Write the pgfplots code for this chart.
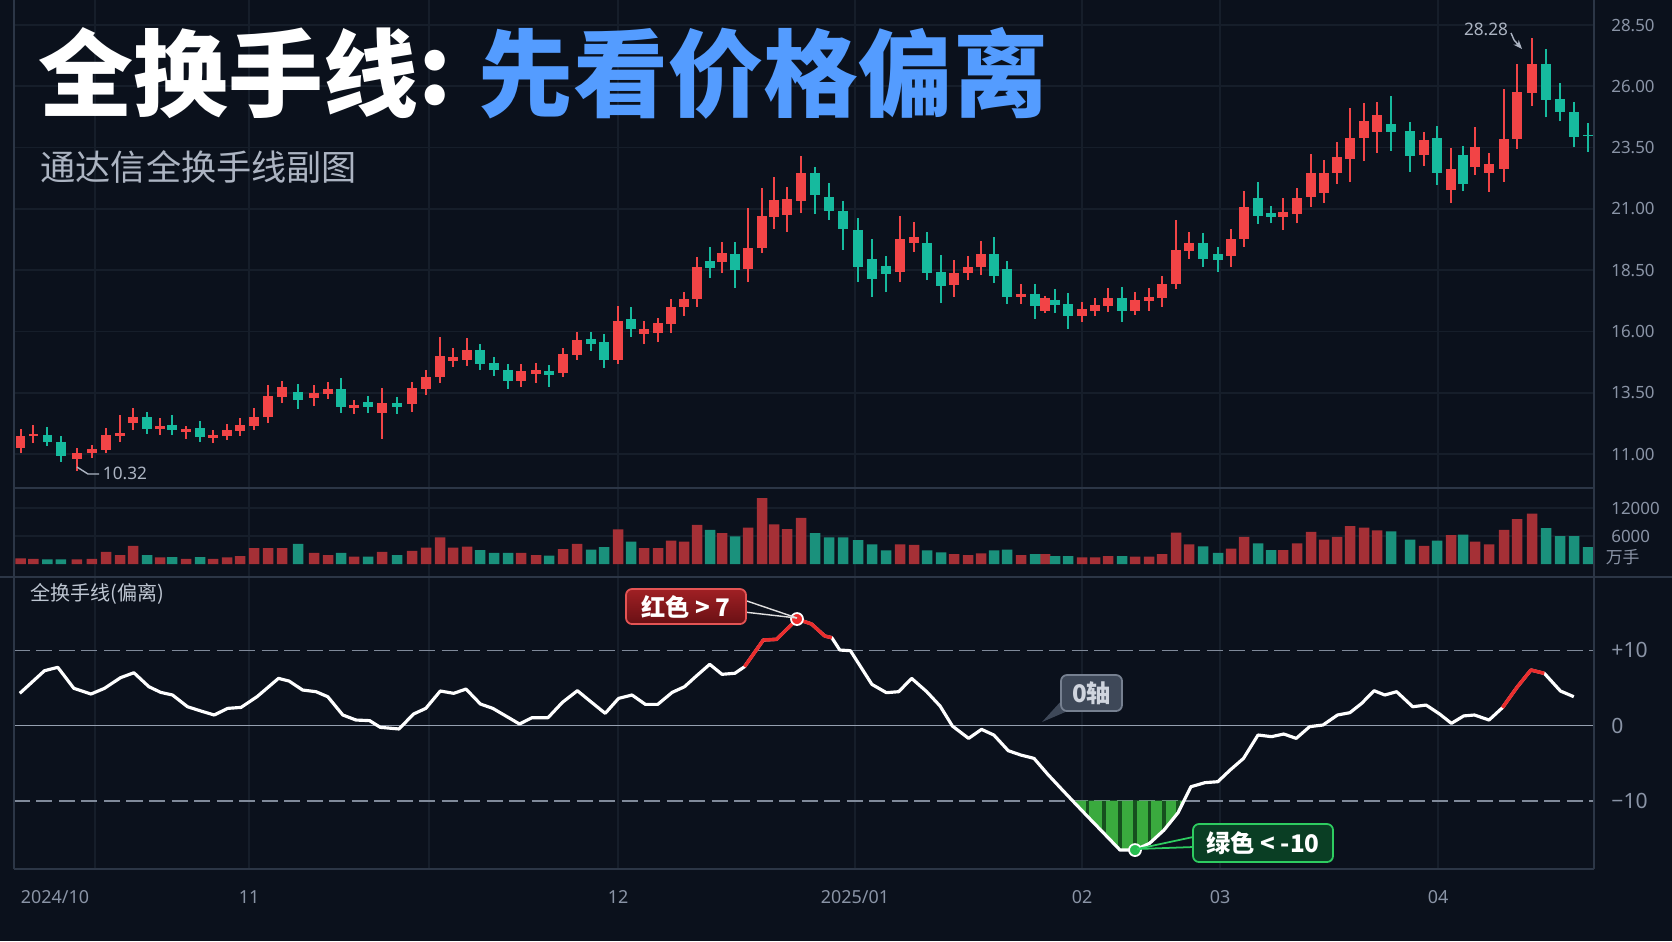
\documentclass[border=0pt]{standalone}
\usepackage{pgfplots}
\pgfplotsset{compat=1.18}
\usepackage{pgfplotstable}
\usetikzlibrary{arrows.meta}
\usepackage{fontspec}
\setmainfont{Noto Sans}
\newfontfamily\cjk{Noto Sans CJK SC}
\definecolor{bgc}{RGB}{11,17,28}
\definecolor{gridc}{RGB}{22,30,42}
\definecolor{sepc}{RGB}{44,54,70}
\definecolor{tickc}{RGB}{138,148,166}
\definecolor{upc}{RGB}{242,68,70}
\definecolor{dnc}{RGB}{22,186,158}
\definecolor{volup}{RGB}{165,48,54}
\definecolor{voldn}{RGB}{26,145,124}
\definecolor{dashc}{RGB}{128,138,154}
\definecolor{zeroc}{RGB}{150,160,176}
\definecolor{linered}{RGB}{235,45,45}
\definecolor{fillg}{RGB}{58,170,62}
\definecolor{stripec}{RGB}{22,80,30}
\definecolor{titleblue}{RGB}{84,156,255}
\definecolor{subc}{RGB}{172,180,194}
\definecolor{lblc}{RGB}{190,198,210}
\definecolor{markg}{RGB}{40,190,80}
\definecolor{redborder}{RGB}{228,84,84}
\definecolor{redtop}{RGB}{160,32,36}
\definecolor{redbot}{RGB}{105,16,20}
\definecolor{greenborder}{RGB}{46,204,96}
\definecolor{greenfill}{RGB}{10,62,36}
\definecolor{zfill}{RGB}{62,72,88}
\definecolor{zborder}{RGB}{118,128,144}
\definecolor{ztext}{RGB}{208,213,222}

\pgfplotstableread{
x o h l c v
20.7 11.25 12.02 11.05 11.74 1200
33.3 11.72 12.19 11.45 11.80 1100
77 10.82 11.25 10.32 11.06 1000
92 11.04 11.37 10.85 11.21 1100
106 11.17 12.06 11.04 11.78 2600
120 11.74 12.60 11.50 11.86 1900
133 12.27 12.90 11.98 12.50 3900
160 12.02 12.48 11.78 12.15 1400
186 11.90 12.15 11.62 12.02 1100
213 11.66 11.98 11.45 11.78 1100
227 11.74 12.23 11.57 11.98 1400
240 11.94 12.48 11.74 12.19 1700
254 12.15 12.86 11.98 12.50 3400
268 12.50 13.82 12.27 13.37 3400
282 13.33 14.00 13.08 13.74 3400
314 13.29 13.82 12.96 13.49 2400
328 13.45 13.94 13.25 13.66 1900
354 12.88 13.20 12.64 13.00 1600
382 12.68 13.70 11.62 13.08 2600
412 13.04 13.94 12.72 13.70 2800
426 13.66 14.43 13.41 14.14 3500
440 14.14 15.78 13.90 15.00 5700
453 14.80 15.33 14.55 14.96 3500
467 14.84 15.74 14.60 15.25 3700
521 13.98 14.67 13.74 14.39 2400
536 14.27 14.72 13.90 14.43 1900
563 14.31 15.33 14.14 15.08 3200
577 15.04 16.00 14.84 15.65 4300
618 14.84 17.04 14.67 16.43 7400
644 15.90 16.43 15.49 16.10 3400
658 15.94 16.55 15.57 16.35 3400
671 16.31 17.33 15.94 17.00 5000
684 17.00 17.61 16.63 17.33 4800
697 17.33 19.04 17.00 18.63 8400
722 18.83 19.65 18.39 19.20 6600
748 18.55 21.04 18.02 19.41 7800
762 19.41 21.86 19.20 20.71 14100
774 20.67 22.30 20.20 21.37 8500
787 20.75 21.90 20.06 21.41 7500
801 21.33 23.16 20.83 22.46 9900
900 18.43 20.71 18.02 19.77 4200
914 19.61 20.47 19.24 19.86 4100
954 17.90 18.92 17.41 18.39 2100
968 18.39 19.08 18.10 18.63 1900
981 18.63 19.69 18.31 19.16 2300
1021 17.41 17.94 17.12 17.53 1900
1045 16.85 17.45 16.75 17.35 2100
1082 16.63 17.20 16.39 16.92 1400
1095 16.84 17.37 16.63 17.08 1400
1108 17.04 17.77 16.80 17.37 1700
1135 16.84 17.61 16.67 17.29 1600
1149 17.25 17.77 16.84 17.41 1600
1162 17.37 18.26 17.00 17.94 2100
1176 17.94 20.55 17.73 19.33 6700
1189 19.29 20.06 18.96 19.61 4200
1231 19.09 20.18 18.63 19.79 3300
1244 19.77 21.73 19.45 21.08 5800
1283 20.69 21.45 20.14 20.88 3000
1297 20.79 21.86 20.41 21.45 4400
1311 21.49 23.24 21.08 22.46 6900
1324 21.66 22.99 21.24 22.48 5200
1337 22.46 23.73 22.02 23.12 5800
1350 23.03 25.12 22.10 23.91 8100
1364 23.89 25.30 22.95 24.58 7800
1377 24.15 25.37 23.29 24.83 7200
1424 23.20 24.15 22.77 23.80 3900
1451 21.79 23.48 21.26 22.63 6200
1475 22.72 24.34 22.38 23.52 4800
1489 22.46 23.28 21.69 22.83 4200
1504 22.63 25.87 22.10 23.85 7300
1517 23.87 26.91 23.44 25.77 9600
1532 25.74 27.95 25.20 26.91 10800
}\uptab

\pgfplotstableread{
x o h l c v
47.3 11.78 12.10 11.33 11.50 1000
61 11.50 11.74 10.68 10.92 1000
147 12.50 12.72 11.82 12.02 1900
172 12.19 12.60 11.78 11.98 1500
200 12.06 12.35 11.50 11.70 1500
298 13.53 13.86 12.84 13.21 4300
341 13.66 14.10 12.68 12.92 2400
368 13.13 13.37 12.68 12.92 1600
397 13.08 13.33 12.64 12.92 1900
480 15.25 15.50 14.43 14.67 3000
494 14.72 14.96 14.19 14.43 2400
508 14.43 14.67 13.66 13.98 2400
549 14.39 14.63 13.74 14.23 1800
591 15.70 15.98 15.20 15.49 3100
604 15.57 15.90 14.51 14.84 3600
631 16.51 17.00 15.78 16.10 4800
710 18.88 19.45 18.18 18.59 7300
735 19.16 19.65 17.77 18.51 5900
815 22.46 22.70 20.80 21.57 6600
829 21.49 22.06 20.55 20.92 5700
843 20.92 21.33 19.33 20.18 5700
858 20.14 20.63 18.02 18.63 5100
872 18.96 19.77 17.41 18.14 4200
886 18.67 19.08 17.61 18.35 2900
927 19.61 20.06 18.10 18.39 2900
941 18.43 19.12 17.16 17.86 2500
994 19.16 19.86 17.98 18.26 2900
1007 18.55 18.88 17.12 17.41 3100
1035 17.53 17.94 16.51 17.04 2100
1055 17.29 17.73 16.75 17.08 1700
1068 17.12 17.57 16.10 16.63 1700
1122 17.37 17.82 16.39 16.84 1700
1203 19.59 20.00 18.63 18.97 3800
1218 19.16 19.45 18.43 18.92 2400
1258 21.45 22.10 20.39 20.73 4400
1271 20.83 21.12 20.41 20.69 3000
1391 24.46 25.60 23.38 24.14 7000
1410 24.18 24.54 22.52 23.16 5200
1437 23.89 24.38 21.98 22.46 5000
1463 23.20 23.57 21.73 22.02 6300
1546 26.89 27.53 24.73 25.44 7700
1560 25.48 26.13 24.58 24.95 6000
1574 24.95 25.34 23.52 23.93 6000
1588 24.03 24.52 23.34 23.97 3600
}\dntab

\pgfplotstableread{
x y
19.8 4.28
44.5 7.29
57.8 7.74
73.9 4.94
91 4.19
104.4 4.94
120.5 6.36
133.9 7.02
148.9 5.16
160.7 4.41
172.5 4.06
187.5 2.50
200.9 1.93
214.2 1.40
227.6 2.28
241 2.41
257 3.83
278.5 6.27
289 5.92
302.6 4.72
316 4.50
327.8 3.83
342.8 1.40
356 0.73
369.6 0.65
380.3 -0.24
399 -0.46
413.5 1.53
425.8 2.28
440.3 4.59
453.7 4.28
466 4.85
480.4 2.86
492.8 2.28
506.2 1.24
519.5 0.20
531.9 1.04
548 1.04
562.4 3.08
577.4 4.63
590.8 3.17
605.2 1.62
618.6 3.61
632 4.06
645.4 2.81
657.7 2.81
672.2 4.41
684.5 5.16
696.3 6.58
709.7 8.14
722 6.81
734.9 6.95
744.5 7.82
763.3 11.37
776.6 11.46
797 14.16
811.5 13.50
824.8 11.90
831.8 11.68
839.8 10.04
850.4 9.95
871.9 5.47
886.4 4.37
898.7 4.50
911.6 6.27
926.7 4.50
940.1 2.59
952.4 -0.07
968.6 -1.71
981.5 -0.51
993.8 -1.26
1008.3 -3.35
1020.7 -3.92
1034 -4.37
1047.5 -6.45
1060.9 -8.36
1074.4 -10.26
1087.8 -12.13
1103.9 -14.34
1120 -16.56
1135 -16.56
1149.5 -15.67
1164 -13.90
1178 -11.60
1190.9 -8.14
1204.9 -7.60
1217.8 -7.47
1230.1 -5.92
1243.5 -4.37
1258 -1.26
1271.5 -1.48
1283.8 -1.13
1296.2 -1.71
1309.6 -0.15
1323 0.07
1337.5 1.40
1349.9 1.71
1361.7 2.95
1374 4.63
1384.8 4.06
1396.6 4.50
1412.7 2.50
1426.1 2.72
1439.6 1.53
1451.4 0.29
1463.7 1.28
1474.5 1.40
1489 0.73
1502.4 2.37
1517.4 5.16
1530.9 7.38
1544.3 6.94
1560.4 4.59
1573.8 3.83
}\indtab

\pgfplotstableread{
x y
1072.6 -10
1074.4 -10.26
1087.8 -12.13
1103.9 -14.34
1120 -16.56
1135 -16.56
1149.5 -15.67
1164 -13.90
1178 -11.60
1184 -10
}\filltab

\pgfplotsset{
  panel/.style={
    scale only axis, width=158mm, xmin=14, xmax=1594,
    axis line style={draw=none},
    major tick length=0pt, tick style={draw=none},
    xtick={95,249,429,618,855,1082,1220,1438},
    xticklabels={},
    xmajorgrids,
    major grid style={draw=gridc, line width=0.5pt},
    yticklabel pos=right,
    yticklabel style={anchor=west, xshift=0.5mm, text=tickc, font=\fontsize{4.8}{5}\selectfont},
    /pgf/number format/assume math mode=true,
    scaled y ticks=false,
  }
}

\begin{document}
\begin{tikzpicture}
\fill[bgc] (0,0) rectangle (167.2mm,-94.1mm);

% price panel
\begin{axis}[panel, at={(1.4mm,0mm)}, anchor=north west, height=48.8mm,
  ymin=9.617, ymax=29.52, ymajorgrids,
  ytick={11,13.5,16,18.5,21,23.5,26,28.5},
  yticklabel={\pgfmathprintnumber[fixed,fixed zerofill,precision=2]{\tick}}]
\addplot[draw=upc, line width=0.55pt, quiver={u=0, v=\thisrow{h}-\thisrow{l}}] table[x=x, y=l] \uptab;
\addplot[draw=upc, line width=2.6pt, quiver={u=0, v=\thisrow{c}-\thisrow{o}}] table[x=x, y=o] \uptab;
\addplot[draw=dnc, line width=0.55pt, quiver={u=0, v=\thisrow{h}-\thisrow{l}}] table[x=x, y=l] \dntab;
\addplot[draw=dnc, line width=2.6pt, quiver={u=0, v=\thisrow{c}-\thisrow{o}}] table[x=x, y=o] \dntab;
\end{axis}

% volume panel
\begin{axis}[panel, at={(1.4mm,-48.8mm)}, anchor=north west, height=8.9mm,
  ymin=-2786, ymax=16287, ymajorgrids,
  ytick={6000,12000}, yticklabels={6000,12000}]
\addplot[ybar, bar width=1.05mm, bar shift=0pt, fill=volup, draw=none] table[x=x, y=v] \uptab;
\addplot[ybar, bar width=1.05mm, bar shift=0pt, fill=voldn, draw=none] table[x=x, y=v] \dntab;
\end{axis}

% indicator panel
\begin{axis}[panel, at={(1.4mm,-57.7mm)}, anchor=north west, height=29.2mm,
  ymin=-19.08, ymax=19.75,
  ytick={-10,0,10}, yticklabels={−10,0,+10},
  yticklabel style={font=\fontsize{6}{7}\selectfont},
  xticklabels={{},11,{},12,2025/01,02,03,04},
  extra x ticks={55}, extra x tick labels={2024/10},
  extra x tick style={grid=none},
  xticklabel style={anchor=center, yshift=-2.8mm, text=tickc, font=\fontsize{5.1}{6}\selectfont}]
\addplot[draw=dashc, line width=0.45pt, dash pattern=on 1.6mm off 0.65mm] coordinates {(14,10) (1594,10)};
\addplot[draw=dashc, line width=0.45pt, dash pattern=on 1.6mm off 0.65mm] coordinates {(14,-10) (1594,-10)};
\addplot[draw=zeroc, line width=0.45pt] coordinates {(14,0) (1594,0)};
\addplot[fill=fillg, draw=none] table[x=x, y=y] \filltab;
\addplot[draw=stripec, line width=0.9pt, quiver={u=0, v=-10-\thisrow{y}}, restrict x to domain=1074:1179] table[x=x, y=y] \indtab;
\addplot[draw=white, line width=0.9pt, line join=round] table[x=x, y=y] \indtab;
\addplot[draw=linered, line width=1pt, line join=round, restrict x to domain=744:837] table[x=x, y=y] \indtab;
\addplot[draw=linered, line width=1pt, line join=round, restrict x to domain=1502:1545] table[x=x, y=y] \indtab;
\addplot[only marks, mark=*, mark size=0.6mm, mark options={fill=linered, draw=white, line width=0.5pt}] coordinates {(797,14.16)};
\addplot[only marks, mark=*, mark size=0.6mm, mark options={fill=markg, draw=white, line width=0.5pt}] coordinates {(1135,-16.56)};
\end{axis}

\begin{scope}[x=0.1mm, y=-0.1mm]
\draw[sepc, line width=0.6pt] (14,0) -- (14,869);
\draw[sepc, line width=0.6pt] (1594,0) -- (1594,869);
\draw[sepc, line width=0.6pt] (14,488) -- (1594,488);
\draw[sepc, line width=0.6pt] (0,577) -- (1672,577);
\draw[sepc, line width=0.6pt] (14,869) -- (1594,869);
\node[anchor=west, text=tickc, font=\cjk\fontsize{4.8}{5}\selectfont, inner sep=0] at (1605,557) {万手};

% title
\node[anchor=west, inner sep=0, text=white, font=\cjk\bfseries\fontsize{27}{29}\selectfont] at (38,73) {全换手线};
\node[anchor=center, inner sep=0, text=white, font=\cjk\bfseries\fontsize{27}{29}\selectfont] at (435,78) {:};
\node[anchor=west, inner sep=0, text=titleblue, font=\cjk\bfseries\fontsize{27}{29}\selectfont] at (478,73) {先看价格偏离};
\node[anchor=west, inner sep=0, text=subc, font=\cjk\fontsize{10}{12}\selectfont] at (40,167) {通达信全换手线副图};

% panel label
\node[anchor=west, inner sep=0, text=lblc, font=\cjk\fontsize{5.7}{7}\selectfont] at (30,594) {全换手线(偏离)};

% price annotations
\node[anchor=center, inner sep=0, text=subc, font=\fontsize{4.9}{6}\selectfont] at (1486,29) {28.28};
\draw[subc, line width=0.4pt, -{Stealth[length=0.9mm,width=0.7mm]}] (1511,33) -- (1514,40) -- (1522,49);
\node[anchor=center, inner sep=0, text=subc, font=\fontsize{4.9}{6}\selectfont] at (125,473) {10.32};
\draw[subc, line width=0.4pt] (77,467) -- (88,474) -- (99,474);

% red callout
\draw[line width=0.4pt, white!75!gray] (744,600) -- (797,618);
\draw[line width=0.4pt, white!75!gray] (744,612) -- (797,618);
\draw[draw=redborder, top color=redtop, bottom color=redbot, rounded corners=0.6mm, line width=0.5pt] (626,589) rectangle (746,624);
\node[text=white, font=\cjk\bfseries\fontsize{6.9}{8}\selectfont, inner sep=0] at (686,606.5) {红色 > 7};

% green callout
\draw[line width=0.5pt, greenborder] (1193,837) -- (1137,849);
\draw[line width=0.5pt, greenborder] (1193,847) -- (1137,849);
\draw[draw=greenborder, fill=greenfill, rounded corners=0.6mm, line width=0.5pt] (1193,824) rectangle (1333,862);
\node[text=white, font=\cjk\bfseries\fontsize{6.9}{8}\selectfont, inner sep=0] at (1263,843) {绿色 < -10};

% zero-axis callout
\fill[zfill] (1062,700) -- (1042,722) -- (1070,710) -- cycle;
\draw[draw=zborder, fill=zfill, rounded corners=0.6mm, line width=0.5pt] (1061,675) rectangle (1122,711);
\node[text=ztext, font=\cjk\bfseries\fontsize{6.9}{8}\selectfont, inner sep=0] at (1091.5,693) {0轴};
\end{scope}

\pgfresetboundingbox
\path[use as bounding box] (0,0) rectangle (167.2mm,-94.1mm);
\end{tikzpicture}
\end{document}
